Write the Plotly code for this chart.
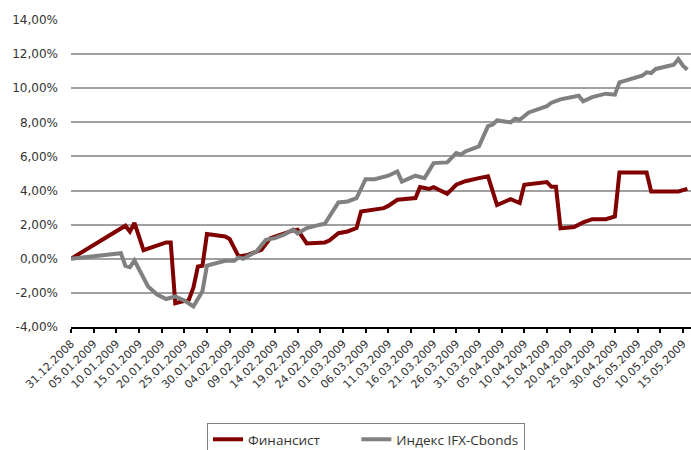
import plotly.graph_objects as go

# Финансист
fin_dates = ["2008-12-31", "2009-01-12", "2009-01-13", "2009-01-14", "2009-01-16", "2009-01-21",
             "2009-01-22", "2009-01-23", "2009-01-26", "2009-01-27", "2009-01-28", "2009-01-29",
             "2009-01-30", "2009-02-03", "2009-02-04", "2009-02-06", "2009-02-08", "2009-02-11",
             "2009-02-13", "2009-02-15", "2009-02-18", "2009-02-19", "2009-02-21", "2009-02-25",
             "2009-02-26", "2009-02-28", "2009-03-02", "2009-03-04", "2009-03-05", "2009-03-10",
             "2009-03-11", "2009-03-13", "2009-03-17", "2009-03-18", "2009-03-20", "2009-03-21",
             "2009-03-24", "2009-03-26", "2009-03-28", "2009-03-31", "2009-04-02", "2009-04-04",
             "2009-04-07", "2009-04-09", "2009-04-10", "2009-04-15", "2009-04-16", "2009-04-17",
             "2009-04-18", "2009-04-21", "2009-04-23", "2009-04-25", "2009-04-28", "2009-04-30",
             "2009-05-01", "2009-05-07", "2009-05-08", "2009-05-14", "2009-05-16"]
fin_values = [0.00, 1.94, 1.60, 2.10, 0.50, 0.96,
              0.96, -2.60, -2.40, -1.70, -0.45, -0.41,
              1.45, 1.31, 1.16, 0.13, 0.23, 0.53,
              1.21, 1.41, 1.66, 1.70, 0.90, 0.96,
              1.07, 1.50, 1.60, 1.80, 2.77, 2.97,
              3.10, 3.46, 3.56, 4.20, 4.09, 4.20,
              3.81, 4.34, 4.55, 4.73, 4.83, 3.15,
              3.50, 3.27, 4.34, 4.50, 4.22, 4.22,
              1.78, 1.86, 2.13, 2.32, 2.32, 2.48,
              5.06, 5.06, 3.95, 3.95, 4.10]

# Индекс IFX-Cbonds
ifx_dates = ["2008-12-31", "2009-01-11", "2009-01-12", "2009-01-13", "2009-01-14", "2009-01-16",
             "2009-01-17", "2009-01-19", "2009-01-21", "2009-01-23", "2009-01-25", "2009-01-27",
             "2009-01-28", "2009-01-29", "2009-01-30", "2009-02-03", "2009-02-05", "2009-02-06",
             "2009-02-07", "2009-02-10", "2009-02-12", "2009-02-14", "2009-02-16", "2009-02-18",
             "2009-02-19", "2009-02-21", "2009-02-24", "2009-02-25", "2009-02-28", "2009-03-02",
             "2009-03-04", "2009-03-06", "2009-03-08", "2009-03-11", "2009-03-13", "2009-03-14",
             "2009-03-17", "2009-03-19", "2009-03-21", "2009-03-24", "2009-03-26", "2009-03-27",
             "2009-03-28", "2009-03-31", "2009-04-02", "2009-04-03", "2009-04-04", "2009-04-07",
             "2009-04-08", "2009-04-09", "2009-04-11", "2009-04-15", "2009-04-16", "2009-04-18",
             "2009-04-22", "2009-04-23", "2009-04-25", "2009-04-28", "2009-04-30", "2009-05-01",
             "2009-05-06", "2009-05-07", "2009-05-08", "2009-05-09", "2009-05-13", "2009-05-14",
             "2009-05-15", "2009-05-16"]
ifx_values = [0.00, 0.33, -0.41, -0.49, -0.10, -1.13,
              -1.62, -2.10, -2.36, -2.21, -2.45, -2.80,
              -2.36, -1.90, -0.40, -0.12, -0.12, 0.08,
              0.00, 0.45, 1.11, 1.21, 1.41, 1.72,
              1.48, 1.80, 2.00, 2.05, 3.30, 3.36,
              3.56, 4.67, 4.67, 4.87, 5.12, 4.53,
              4.87, 4.73, 5.61, 5.65, 6.20, 6.10,
              6.29, 6.59, 7.78, 7.86, 8.11, 8.00,
              8.22, 8.15, 8.58, 8.95, 9.15, 9.35,
              9.56, 9.23, 9.48, 9.68, 9.62, 10.34,
              10.73, 10.93, 10.89, 11.13, 11.38, 11.71,
              11.32, 11.09]

y_ticks = [-4, -2, 0, 2, 4, 6, 8, 10, 12, 14]
y_tick_labels = ["-4,00%", "-2,00%", "0,00%", "2,00%", "4,00%", "6,00%",
                 "8,00%", "10,00%", "12,00%", "14,00%"]

fig = go.Figure()
fig.add_trace(go.Scatter(x=fin_dates, y=fin_values, mode="lines",
                         name="Финансист" + "\u00a0" * 9,
                         line=dict(color="#800000", width=4)))
fig.add_trace(go.Scatter(x=ifx_dates, y=ifx_values, mode="lines", name="Индекс IFX-Cbonds",
                         line=dict(color="#808080", width=4)))

fig.update_layout(
    width=691, height=450,
    margin=dict(l=71, r=0, t=20, b=123, autoexpand=False),
    paper_bgcolor="white", plot_bgcolor="white",
    font=dict(family="DejaVu Sans", size=12, color="#333333"),
    showlegend=True,
    legend=dict(orientation="h", xref="container", yref="container",
                x=207/691, y=1 - 423/450, xanchor="left", yanchor="top",
                bordercolor="#808080", borderwidth=1,
                font=dict(family="Open Sans", size=13.5, color="#333333")),
    xaxis=dict(type="date", range=["2008-12-31", "2009-05-16 19:00"], automargin=False,
               tick0="2008-12-31", dtick=5 * 86400000, tickformat="%d.%m.%Y",
               tickangle=-45, tickfont=dict(size=11, family="DejaVu Sans", color="#333333"),
               showgrid=False, showline=True, linecolor="black", linewidth=2,
               ticks="outside", ticklen=4, tickwidth=2, tickcolor="black"),
    yaxis=dict(range=[-4, 14], tickvals=y_ticks, ticktext=y_tick_labels, automargin=False,
               showgrid=True, gridcolor="#a0a0a0", gridwidth=1.5, zeroline=False,
               showline=False, ticks="", ticklabelstandoff=12,
               tickfont=dict(size=12, family="DejaVu Sans", color="#333333")),
)

fig.write_html("out.html", config={"displayModeBar": False},
               post_script="document.body.style.margin='0';document.body.style.padding='0';")
